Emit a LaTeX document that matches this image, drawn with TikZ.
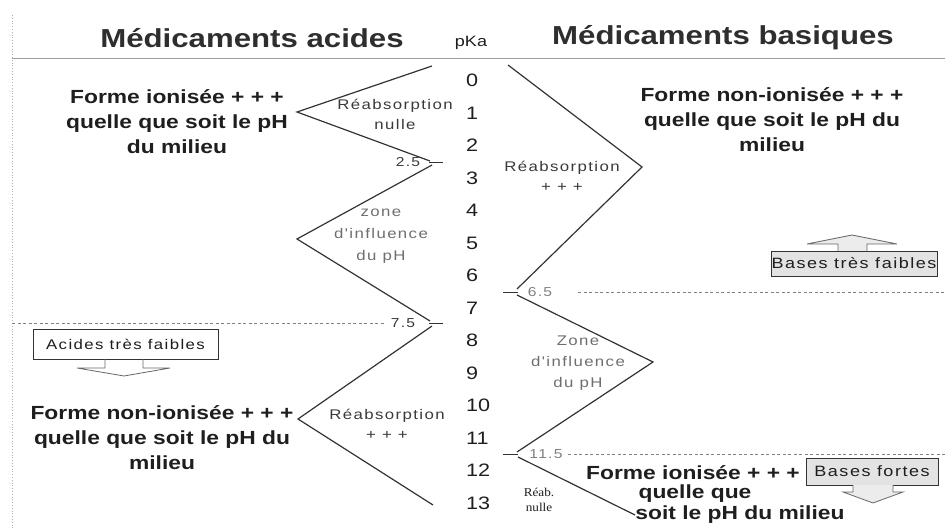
\documentclass[tikz,border=0pt]{standalone}
\usepackage{fontspec}
\setmainfont{Liberation Sans}[FakeStretch=1.2]
\newfontfamily\spc{Liberation Sans}[FakeStretch=1.2,LetterSpace=10]
\newfontfamily\serf{Liberation Serif}[FakeStretch=1.1]
\definecolor{ink}{HTML}{1E1E1E}
\definecolor{titlec}{HTML}{2E2E2E}
\definecolor{labc}{HTML}{3A3A3A}
\definecolor{lgray}{HTML}{6E6E6E}
\definecolor{linec}{HTML}{333333}
\tikzset{
  titletext/.style={font=\bfseries\fontsize{26}{30}\selectfont, text=titlec, inner sep=0pt},
  num/.style={font=\fontsize{18}{20}\selectfont, text=ink, anchor=west, inner sep=0pt},
  big/.style={font=\bfseries\fontsize{19}{25}\selectfont, align=center, text=ink, inner sep=0pt},
  lab/.style={font=\spc\fontsize{14}{20}\selectfont, align=center, text=labc, inner sep=0pt},
  graylab/.style={lab, text=lgray},
  zig/.style={draw=linec, line width=1.2pt},
  tickline/.style={draw=linec, line width=0.9pt},
  dashline/.style={draw=gray, dash pattern=on 3pt off 2.5pt, line width=0.8pt},
  boxw/.style={draw=linec, line width=0.8pt, fill=white, font=\spc\fontsize{14}{16}\selectfont, text=ink, inner sep=0pt},
  boxg/.style={draw=linec, line width=0.9pt, fill=gray!22, font=\spc\fontsize{15}{17}\selectfont, text=ink, inner sep=0pt},
  arrowout/.style={draw=gray!80!black, line width=0.8pt}
}
\begin{document}
\begin{tikzpicture}[x=1pt,y=-1pt]
\useasboundingbox (0,0) rectangle (945,529);

% frame lines
\draw[gray!60, dotted, line width=0.8pt] (12,15) -- (12,529);
\draw[gray!75, line width=1pt] (12,59) -- (945,59);

% titles
\node[titletext] (tacid) at (252,38) {Médicaments acides};
\node[font=\fontsize{15}{17}\selectfont, text=ink, inner sep=0pt] (pka) at (471,43) {pKa};
\node[titletext] (tbase) at (723,38) {Médicaments basiques};

% pKa scale
\foreach \i in {0,...,13} {
  \node[num] (n\i) at (466,{80.5+32.5*\i}) {\i};
}

% left zigzag (acids)
\coordinate (a0) at (432,66);
\coordinate (a1) at (297,112);
\coordinate (a2) at (430,161);
\coordinate (a3) at (432,165);
\coordinate (a4) at (297,239);
\coordinate (a5) at (430,321);
\coordinate (a6) at (432,326);
\coordinate (a7) at (298,419);
\coordinate (a8) at (433,505);
\draw[zig] (a0) -- (a1) -- (a2);
\draw[zig] (a3) -- (a4) -- (a5);
\draw[zig] (a6) -- (a7) -- (a8);

\node[lab, font=\spc\fontsize{13}{15}\selectfont] (l25) at (408,162) {2.5};
\coordinate (t25a) at (429,162.5);
\coordinate (t25b) at (443,162.5);
\draw[tickline] (t25a) -- (t25b);
\node[lab, font=\spc\fontsize{13}{15}\selectfont] (l75) at (403,323) {7.5};
\coordinate (t75a) at (429,323.5);
\coordinate (t75b) at (443,323.5);
\draw[tickline] (t75a) -- (t75b);
\coordinate (dl0) at (12,323);
\coordinate (dl1) at (385,323);
\draw[dashline] (dl0) -- (dl1);

% right zigzag (bases)
\coordinate (b0) at (508,65);
\coordinate (b1) at (642,167);
\coordinate (b2) at (517,289);
\coordinate (b3) at (517,295);
\coordinate (b4) at (653,362);
\coordinate (b5) at (517,452);
\coordinate (b6) at (518,457);
\coordinate (b7) at (635,515);
\draw[zig] (b0) -- (b1) -- (b2);
\draw[zig] (b3) -- (b4) -- (b5);
\draw[zig] (b6) -- (b7);

\coordinate (t65a) at (503,292);
\coordinate (t65b) at (518,292);
\draw[tickline] (t65a) -- (t65b);
\node[graylab, font=\spc\fontsize{13}{15}\selectfont, text=gray] (l65) at (540,292) {6.5};
\coordinate (t115a) at (503,454);
\coordinate (t115b) at (518,454);
\draw[tickline] (t115a) -- (t115b);
\node[graylab, font=\spc\fontsize{13}{15}\selectfont, text=gray] (l115) at (546,454) {11.5};
\coordinate (dr0) at (578,292);
\coordinate (dr1) at (945,292);
\draw[dashline] (dr0) -- (dr1);
\coordinate (dr2) at (568,454);
\coordinate (dr3) at (945,454);
\draw[dashline] (dr2) -- (dr3);

% zone labels
\node[lab] (rnulle) at (395,114) {Réabsorption\\nulle};
\node[graylab, font=\spc\fontsize{14}{22}\selectfont] (zinf1) at (381,236) {zone\\d'influence\\du pH};
\node[lab] (rplus1) at (387,424) {Réabsorption\\+ + +};
\node[lab] (rplus2) at (562,176) {Réabsorption\\+ + +};
\node[graylab, font=\spc\fontsize{14}{21}\selectfont] (zinf2) at (578,363) {Zone\\d'influence\\du pH};
\node[font=\serf\fontsize{12}{15}\selectfont, align=center, text=ink, inner sep=0pt] (rnul2) at (539,500) {Réab.\\nulle};

% main texts
\node[big] (fion1) at (177,122) {Forme ionisée + + +\\quelle que soit le pH\\du milieu};
\node[big] (fnon1) at (772,120) {Forme non-ionisée + + +\\quelle que soit le pH du\\milieu};
\node[big] (fnon2) at (162,438) {Forme non-ionisée + + +\\quelle que soit le pH du\\milieu};
\node[big] (fion2a) at (693,473) {Forme ionisée + + +};
\node[big] (fion2b) at (695,494) {quelle que};
\node[big] (fion2c) at (740,515) {soit le pH du milieu};

% boxes with callout arrows
\node[boxw, minimum width=185pt, minimum height=30pt] (acf) at (125.5,344) {Acides très faibles};
\draw[arrowout] (105,359) -- (105,368) -- (77,368) -- (124,376) -- (170,368) -- (143,368) -- (143,359);

\node[boxg, minimum width=166pt, minimum height=25pt] (btf) at (854,263.5) {Bases très faibles};
\draw[arrowout, fill=gray!15] (838,251) -- (838,244) -- (807,244) -- (852,235) -- (897,244) -- (867,244) -- (867,251);

\node[boxg, minimum width=132pt, minimum height=27pt] (bfo) at (872,471.5) {Bases fortes};
\draw[arrowout, fill=gray!15] (853,485) -- (853,492) -- (843,492) -- (873,503) -- (903,492) -- (893,492) -- (893,485);
\end{tikzpicture}
\end{document}
